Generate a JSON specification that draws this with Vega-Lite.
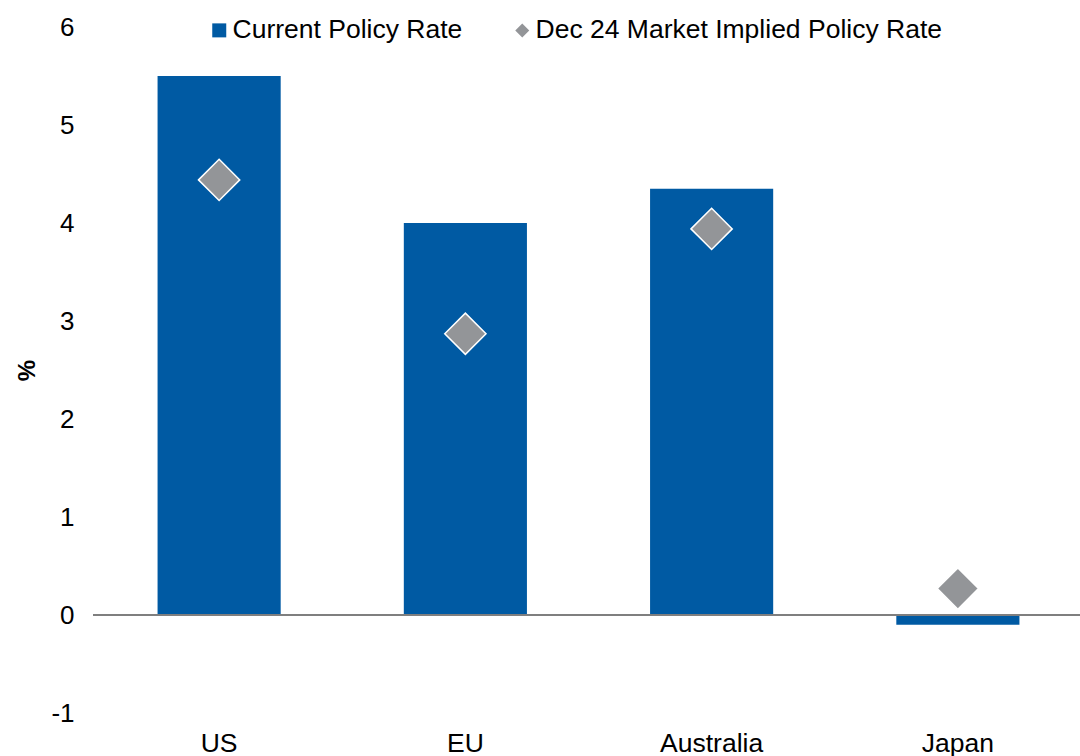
{
  "$schema": "https://vega.github.io/schema/vega-lite/v6.json",
  "autosize": {"type": "none"},
  "padding": {"left": 96, "top": 27, "right": 0, "bottom": 43},
  "width": 985,
  "height": 686,
  "background": "white",
  "config": {
    "view": {"stroke": null},
    "font": "Liberation Sans",
    "axis": {"labelFont": "Liberation Sans", "titleFont": "Liberation Sans", "labelColor": "#000000", "titleColor": "#000000"},
    "legend": {"labelFont": "Liberation Sans"}
  },
  "data": {
    "values": [
      {"country": "US", "series": "Current Policy Rate", "value": 5.5},
      {"country": "EU", "series": "Current Policy Rate", "value": 4.0},
      {"country": "Australia", "series": "Current Policy Rate", "value": 4.35},
      {"country": "Japan", "series": "Current Policy Rate", "value": -0.1},
      {"country": "US", "series": "Dec 24 Market Implied Policy Rate", "value": 4.44},
      {"country": "EU", "series": "Dec 24 Market Implied Policy Rate", "value": 2.87},
      {"country": "Australia", "series": "Dec 24 Market Implied Policy Rate", "value": 3.94},
      {"country": "Japan", "series": "Dec 24 Market Implied Policy Rate", "value": 0.27}
    ]
  },
  "encoding": {
    "x": {
      "field": "country", "type": "nominal", "sort": ["US", "EU", "Australia", "Japan"],
      "scale": {"paddingInner": 0.5, "paddingOuter": 0.25},
      "axis": {"title": null, "labelAngle": 0, "labelFontSize": 26.5, "labelPadding": 30, "labelBaseline": "middle", "domain": false, "ticks": false}
    },
    "y": {
      "field": "value", "type": "quantitative",
      "scale": {"domain": [-1, 6], "nice": false, "zero": false},
      "axis": {"title": "%", "titleFontSize": 24, "titleFontWeight": "bold", "titlePadding": 11, "values": [-1, 0, 1, 2, 3, 4, 5, 6], "labelExpr": "datum.value + ''", "labelFontSize": 26, "labelPadding": 22, "domain": false, "ticks": false, "grid": false}
    }
  },
  "layer": [
    {
      "transform": [{"filter": "datum.series === 'Current Policy Rate'"}],
      "mark": {"type": "bar"},
      "encoding": {
        "color": {
          "field": "series", "type": "nominal",
          "scale": {"domain": ["Current Policy Rate", "Dec 24 Market Implied Policy Rate"], "range": ["#005AA3", "#939598"]},
          "legend": {"title": null, "orient": "none", "direction": "horizontal", "legendX": 110, "legendY": -10, "labelFontSize": 26.5, "labelLimit": 600, "labelColor": "#000000", "symbolSize": 196, "symbolStrokeWidth": 0, "symbolOpacity": 1, "labelOffset": 0, "columnPadding": 46, "padding": 0}
        }
      }
    },
    {
      "mark": {"type": "rule", "color": "#7f7f7f", "strokeWidth": 1.5},
      "encoding": {"y": {"datum": 0}, "x": {"value": -3}, "x2": {"value": 985}}
    },
    {
      "transform": [{"filter": "datum.series !== 'Current Policy Rate'"}],
      "mark": {"type": "point", "filled": true, "size": 1700, "stroke": "white", "strokeWidth": 1.5, "opacity": 1},
      "encoding": {
        "color": {
          "field": "series", "type": "nominal",
          "scale": {"domain": ["Current Policy Rate", "Dec 24 Market Implied Policy Rate"], "range": ["#005AA3", "#939598"]},
          "legend": {"title": null, "orient": "none", "direction": "horizontal", "legendX": 110, "legendY": -10, "labelFontSize": 26.5, "labelLimit": 600, "labelColor": "#000000", "symbolSize": 196, "symbolStrokeWidth": 0, "symbolOpacity": 1, "labelOffset": 0, "columnPadding": 46, "padding": 0}
        },
        "shape": {
          "field": "series", "type": "nominal",
          "scale": {"domain": ["Current Policy Rate", "Dec 24 Market Implied Policy Rate"], "range": ["square", "diamond"]},
          "legend": {"title": null, "orient": "none", "direction": "horizontal", "legendX": 110, "legendY": -10, "labelFontSize": 26.5, "labelLimit": 600, "labelColor": "#000000", "symbolSize": 196, "symbolStrokeWidth": 0, "symbolOpacity": 1, "labelOffset": 0, "columnPadding": 46, "padding": 0}
        }
      }
    }
  ]
}
